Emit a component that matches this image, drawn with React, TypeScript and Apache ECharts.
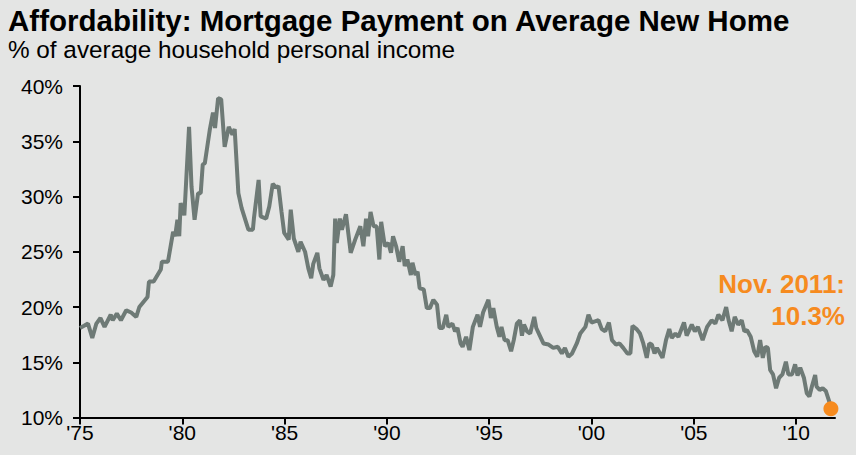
import React, { useEffect, useRef } from "react";
import * as echarts from "echarts";

const TITLE = "Affordability: Mortgage Payment on Average New Home";
const SUBTITLE = "% of average household personal income";
const NOTE_LINE1 = "Nov. 2011:";
const NOTE_LINE2 = "10.3%";

// decimal year of each observation
const dates: number[] = [
  1975.0, 1975.2, 1975.39, 1975.6, 1975.8, 1976.0, 1976.2, 1976.5, 1976.6, 1976.8,
  1977.0, 1977.26, 1977.5, 1977.75, 1977.9, 1978.3, 1978.37, 1978.6, 1978.95, 1979.0,
  1979.3, 1979.55, 1979.65, 1979.76, 1979.85, 1979.92, 1980.1, 1980.33, 1980.45, 1980.6,
  1980.77, 1980.9, 1981.0, 1981.1, 1981.34, 1981.5, 1981.6, 1981.75, 1981.9, 1982.07,
  1982.27, 1982.45, 1982.56, 1982.74, 1982.9, 1983.23, 1983.45, 1983.5, 1983.73, 1983.83,
  1984.1, 1984.25, 1984.42, 1984.6, 1984.7, 1984.85, 1984.98, 1985.2, 1985.3, 1985.45,
  1985.67, 1985.78, 1986.0, 1986.16, 1986.3, 1986.4, 1986.6, 1986.7, 1986.9, 1987.05,
  1987.25, 1987.38, 1987.47, 1987.55, 1987.7, 1987.8, 1988.0, 1988.23, 1988.45, 1988.7,
  1988.85, 1988.98, 1989.08, 1989.2, 1989.35, 1989.5, 1989.63, 1989.72, 1989.9, 1990.07,
  1990.2, 1990.3, 1990.45, 1990.6, 1990.77, 1990.87, 1991.0, 1991.17, 1991.25, 1991.4,
  1991.5, 1991.6, 1991.8, 1991.95, 1992.1, 1992.27, 1992.45, 1992.57, 1992.73, 1992.9,
  1993.0, 1993.2, 1993.33, 1993.45, 1993.6, 1993.7, 1993.87, 1994.03, 1994.2, 1994.43,
  1994.55, 1994.7, 1994.96, 1995.08, 1995.2, 1995.37, 1995.5, 1995.6, 1995.75, 1995.9,
  1996.07, 1996.2, 1996.35, 1996.5, 1996.6, 1996.7, 1996.85, 1997.0, 1997.2, 1997.3,
  1997.45, 1997.65, 1997.9, 1998.13, 1998.35, 1998.55, 1998.7, 1998.87, 1999.05, 1999.28,
  1999.45, 1999.7, 1999.85, 2000.0, 2000.17, 2000.34, 2000.5, 2000.67, 2000.85, 2001.0,
  2001.2, 2001.37, 2001.55, 2001.75, 2001.9, 2002.0, 2002.2, 2002.37, 2002.53, 2002.7,
  2002.82, 2002.95, 2003.08, 2003.2, 2003.47, 2003.64, 2003.8, 2003.92, 2004.1, 2004.25,
  2004.52, 2004.65, 2004.9, 2005.05, 2005.2, 2005.43, 2005.65, 2005.87, 2006.05, 2006.2,
  2006.4, 2006.58, 2006.7, 2006.85, 2007.0, 2007.17, 2007.34, 2007.47, 2007.6, 2007.78,
  2007.95, 2008.1, 2008.24, 2008.37, 2008.5, 2008.62, 2008.73, 2008.87, 2009.02, 2009.17,
  2009.33, 2009.5, 2009.62, 2009.8, 2009.95, 2010.07, 2010.2, 2010.38, 2010.52, 2010.65,
  2010.77, 2010.93, 2011.0, 2011.15, 2011.3, 2011.45, 2011.66,
];

// mortgage payment as % of average household personal income
const values: number[] = [
  18.1, 18.3, 18.5, 17.2, 18.5, 19.0, 18.2, 19.3, 18.8, 19.4,
  18.8, 19.7, 19.5, 19.1, 20.0, 20.9, 22.3, 22.3, 23.4, 24.1,
  24.1, 26.8, 26.4, 27.9, 26.4, 29.4, 28.3, 36.3, 30.9, 27.9,
  30.3, 30.3, 32.9, 33.0, 36.0, 37.6, 36.2, 38.9, 38.8, 34.5,
  36.3, 35.6, 36.1, 30.3, 28.95, 27.0, 27.0, 28.0, 31.5, 28.2,
  28.0, 29.1, 31.15, 30.8, 30.95, 28.6, 26.7, 26.1, 28.8, 26.2,
  25.0, 25.9, 25.0, 23.5, 22.6, 23.9, 24.9, 23.5, 22.45, 22.9,
  21.85, 22.9, 28.0, 25.8, 28.0, 27.0, 28.4, 24.9, 26.1, 27.3,
  25.5, 28.0, 26.4, 28.6, 27.3, 27.3, 24.3, 27.7, 25.5, 25.8,
  24.9, 26.4, 25.5, 24.1, 25.5, 23.7, 24.3, 22.9, 24.0, 22.9,
  23.2, 21.7, 21.6, 19.9, 19.9, 20.65, 20.2, 18.1, 18.1, 19.3,
  18.2, 18.5, 17.8, 18.1, 16.7, 16.4, 17.3, 16.1, 18.2, 19.3,
  18.2, 19.5, 20.65, 19.0, 19.9, 18.2, 17.3, 18.2, 17.0, 17.0,
  16.0, 17.0, 18.5, 18.8, 17.4, 18.4, 17.8, 17.6, 19.1, 18.1,
  17.5, 16.7, 16.6, 16.3, 16.4, 15.8, 16.3, 15.5, 15.8, 16.7,
  17.6, 18.2, 19.3, 18.6, 18.7, 18.8, 18.0, 17.8, 18.6, 17.0,
  16.6, 16.7, 16.3, 15.8, 15.8, 18.3, 18.0, 17.6, 16.7, 15.4,
  16.7, 16.6, 15.8, 16.3, 15.4, 17.0, 18.0, 17.2, 17.6, 17.3,
  18.6, 17.4, 18.4, 17.8, 18.2, 17.0, 18.2, 18.8, 18.5, 19.3,
  18.8, 20.0, 18.8, 17.8, 19.1, 18.4, 18.8, 17.8, 17.9, 17.3,
  16.0, 15.5, 17.0, 15.4, 16.4, 16.3, 14.3, 13.9, 12.65, 13.6,
  13.9, 15.05, 13.9, 13.9, 14.8, 13.8, 14.5, 13.6, 12.2, 11.9,
  12.8, 13.85, 12.8, 12.5, 12.65, 12.4, 11.2,
];

const latestPoint: [number, number] = [2011.7, 10.8];

const xTickYears: number[] = [1975, 1980, 1985, 1990, 1995, 2000, 2005, 2010];
const yTicks: number[] = [10, 15, 20, 25, 30, 35, 40];

const BG = "#e4e5e4";
const LINE = "#6e7a76";
const ORANGE = "#f68b1f";
const FONT = "'Liberation Sans', Arial, Helvetica, sans-serif";

export default function App() {
  const ref = useRef<HTMLDivElement>(null);

  useEffect(() => {
    if (!ref.current) return;
    const chart = echarts.init(ref.current, undefined, { renderer: "svg" });
    const lineData = dates.map((d, i) => [d, values[i]]);
    chart.setOption({
      animation: false,
      backgroundColor: BG,
      textStyle: { fontFamily: FONT },
      grid: { left: 80, right: 21, top: 86, bottom: 37.5, containLabel: false },
      xAxis: {
        type: "value",
        min: 1975,
        max: 2011.9,
        interval: 5,
        splitLine: { show: false },
        axisLine: { lineStyle: { color: "#000", width: 2 } },
        axisTick: {
          show: true,
          length: 7,
          lineStyle: { color: "#000", width: 2 },
          customValues: xTickYears,
        },
        axisLabel: {
          customValues: xTickYears,
          color: "#000",
          fontSize: 21,
          fontFamily: FONT,
          margin: 4,
          formatter: (v: number) => "'" + String(Math.round(v)).slice(2),
        },
      },
      yAxis: {
        type: "value",
        min: yTicks[0],
        max: yTicks[yTicks.length - 1],
        interval: 5,
        splitLine: { show: false },
        axisLine: { show: true, lineStyle: { color: "#000", width: 2 } },
        axisTick: { show: true, length: 7, lineStyle: { color: "#000", width: 2 } },
        axisLabel: {
          color: "#000",
          fontSize: 21,
          fontFamily: FONT,
          margin: 17,
          formatter: "{value}%",
        },
      },
      series: [
        {
          type: "line",
          data: lineData,
          showSymbol: false,
          symbol: "none",
          lineStyle: { color: LINE, width: 4 },
          z: 2,
        },
        {
          type: "scatter",
          data: [latestPoint],
          symbol: "circle",
          symbolSize: 15,
          itemStyle: { color: ORANGE, opacity: 1 },
          z: 3,
        },
      ],
      graphic: [
        {
          type: "text",
          left: 8,
          top: 5,
          style: {
            text: TITLE,
            font: `bold 29.5px ${FONT}`,
            fill: "#000",
          },
        },
        {
          type: "text",
          left: 8,
          top: 37,
          style: {
            text: SUBTITLE,
            font: `24.3px ${FONT}`,
            fill: "#000",
          },
        },
        {
          type: "text",
          x: 845,
          y: 284,
          style: {
            text: NOTE_LINE1,
            font: `bold 26px ${FONT}`,
            fill: ORANGE,
            align: "right",
            verticalAlign: "middle",
          },
        },
        {
          type: "text",
          x: 845,
          y: 316,
          style: {
            text: NOTE_LINE2,
            font: `bold 26px ${FONT}`,
            fill: ORANGE,
            align: "right",
            verticalAlign: "middle",
          },
        },
      ],
    });
    return () => chart.dispose();
  }, []);

  return (
    <div
      ref={ref}
      style={{ position: "absolute", left: 0, top: 0, width: 856, height: 455, background: BG }}
    />
  );
}
